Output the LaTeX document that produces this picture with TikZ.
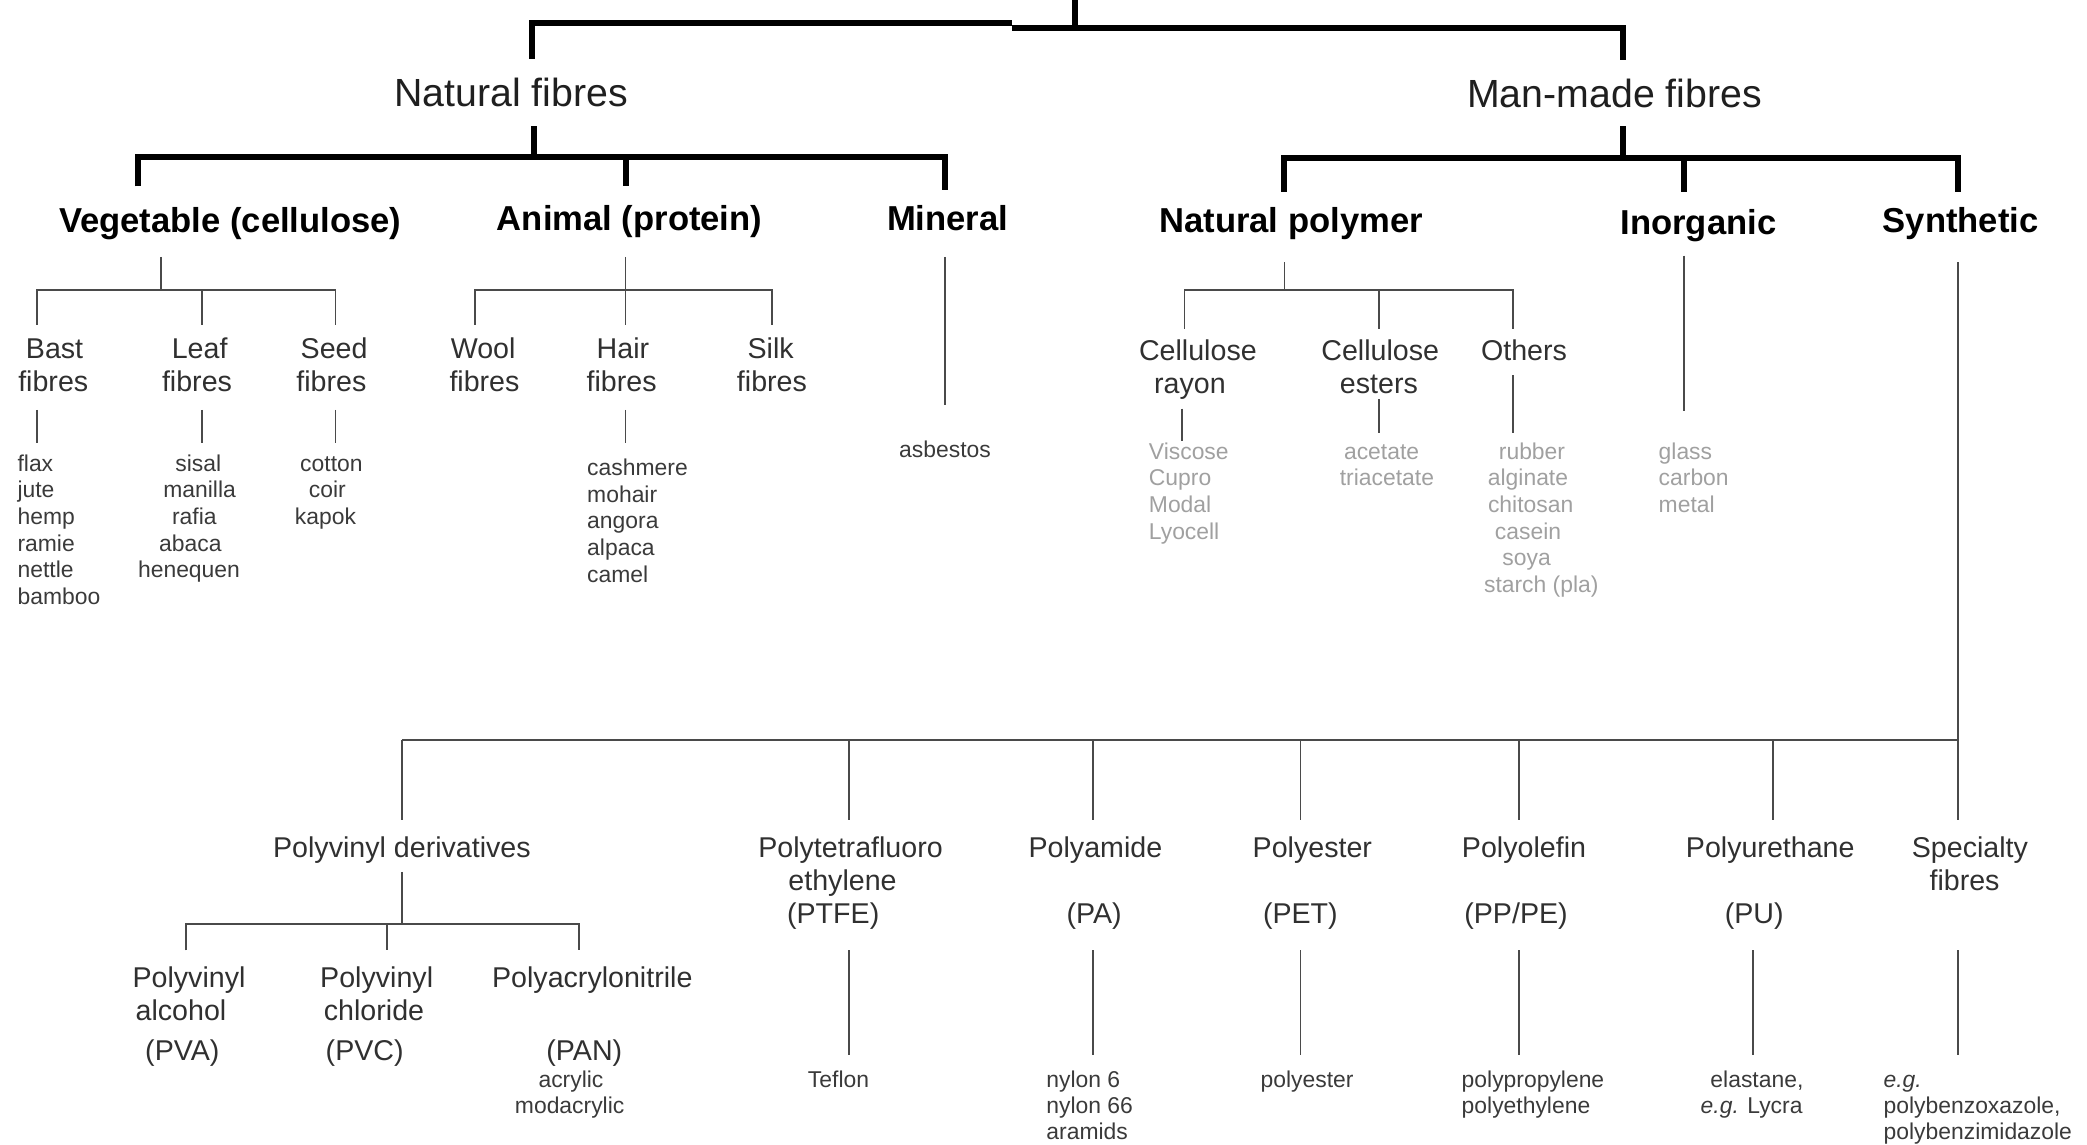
\documentclass[tikz,border=0pt]{standalone}
\usepackage{fontspec}
\setmainfont{Liberation Sans}
\definecolor{linegray}{HTML}{4A4A4A}
\definecolor{txtdark}{HTML}{303030}
\definecolor{txtmid}{HTML}{3A3A3A}
\definecolor{txtlight}{HTML}{A0A0A0}
\begin{document}
\begin{tikzpicture}[x=1pt,y=-1pt,
  thickline/.style={line width=4.5pt, black, line join=miter},
  thinline/.style={line width=1.3pt, draw=linegray},
  lvlone/.style={font=\fontsize{29.5}{35}\selectfont, text=black!88, inner sep=0pt, anchor=base},
  lvltwo/.style={font=\fontsize{26}{31}\selectfont\bfseries, text=black, inner sep=0pt, anchor=base},
  lvlthree/.style={font=\fontsize{21.5}{25}\selectfont, text=txtdark, inner sep=0pt, anchor=base},
  small/.style={font=\fontsize{17.2}{20}\selectfont, text=txtmid, inner sep=0pt},
  faint/.style={small, text=txtlight}]
\useasboundingbox (0,0) rectangle (1568,860);

% ---------- top level ----------
\coordinate (t0) at (808,0);
\coordinate (t1) at (808,21);
\coordinate (tl) at (400,17.3);
\coordinate (tm1) at (760,17.3);
\coordinate (tm2) at (760,21);
\coordinate (tr) at (1219,21);
\coordinate (nfd) at (400,44);
\coordinate (mmd) at (1219,45);
\draw[thickline] (t0) -- (t1);
\draw[thickline] (nfd) -- (tl) -- (tm1);
\draw[thickline] (tm2) -- (tr) -- (mmd);

\node[lvlone] (nat) at (384,80) {Natural fibres};
\node[lvlone] (man) at (1213,81) {Man-made fibres};

% ---------- natural fibres branch ----------
\coordinate (nf1) at (401,95);
\coordinate (nf2) at (401,118);
\coordinate (nbl) at (104,118);
\coordinate (nbm) at (470,118);
\coordinate (nbr) at (710,118);
\coordinate (nvl) at (104,140);
\coordinate (nvm) at (470,140);
\coordinate (nvr) at (710,143);
\draw[thickline] (nf1) -- (nf2);
\draw[thickline] (nvl) -- (nbl) -- (nbr) -- (nvr);
\draw[thickline] (nbm) -- (nvm);

\node[lvltwo] (veg) at (173,175) {Vegetable (cellulose)};
\node[lvltwo] (ani) at (473,173) {Animal (protein)};
\node[lvltwo] (min) at (712,173) {Mineral};

% ---------- man-made branch ----------
\coordinate (mm1) at (1219,95);
\coordinate (mm2) at (1219,119);
\coordinate (mbl) at (965,119);
\coordinate (mbm) at (1265,119);
\coordinate (mbr) at (1471,119);
\coordinate (mvl) at (965,144);
\coordinate (mvm) at (1265,144);
\coordinate (mvr) at (1471,144);
\draw[thickline] (mm1) -- (mm2);
\draw[thickline] (mvl) -- (mbl) -- (mbr) -- (mvr);
\draw[thickline] (mbm) -- (mvm);

\node[lvltwo] (npol) at (970,175) {Natural polymer};
\node[lvltwo] (inorg) at (1276,176) {Inorganic};
\node[lvltwo] (syn) at (1473,175) {Synthetic};

% ---------- vegetable ----------
\coordinate (vg1) at (121,193);
\coordinate (vg2) at (121,218);
\coordinate (vgl) at (28,218);
\coordinate (vgm) at (152,218);
\coordinate (vgr) at (252,218);
\coordinate (vgl2) at (28,244);
\coordinate (vgm2) at (152,244);
\coordinate (vgr2) at (252,244);
\draw[thinline] (vg1) -- (vg2);
\draw[thinline] (vgl2) -- (vgl) -- (vgr) -- (vgr2);
\draw[thinline] (vgm) -- (vgm2);

\node[lvlthree] (bast) at (41,269.5) {Bast};
\node[lvlthree] (bastb) at (40,294.5) {fibres};
\node[lvlthree] (leaf) at (150,269.5) {Leaf};
\node[lvlthree] (leafb) at (148,294.5) {fibres};
\node[lvlthree] (seed) at (251,269.5) {Seed};
\node[lvlthree] (seedb) at (249,294.5) {fibres};

\coordinate (bs1) at (28,308);  \coordinate (bs2) at (28,333);
\coordinate (lf1) at (152,308); \coordinate (lf2) at (152,333);
\coordinate (sd1) at (252,308); \coordinate (sd2) at (252,333);
\draw[thinline] (bs1) -- (bs2);
\draw[thinline] (lf1) -- (lf2);
\draw[thinline] (sd1) -- (sd2);

\foreach \t [count=\i] in {flax,jute,hemp,ramie,nettle,bamboo}
  \node[small, anchor=base west] (bastl-\i) at ({13},{354+(\i-1)*20}) {\t};
\foreach \t/\xx [count=\i] in {sisal/149,manilla/150,rafia/146,abaca/143,henequen/142}
  \node[small, anchor=base] (leafl-\i) at ({\xx},{354+(\i-1)*20}) {\t};
\foreach \t/\xx [count=\i] in {cotton/249,coir/246,kapok/244.5}
  \node[small, anchor=base] (seedl-\i) at ({\xx},{354+(\i-1)*20}) {\t};

% ---------- animal ----------
\coordinate (an1) at (470,193);
\coordinate (an2) at (470,218);
\coordinate (anl) at (357,218);
\coordinate (anr) at (580,218);
\coordinate (anl2) at (357,244);
\coordinate (anm2) at (470,244);
\coordinate (anr2) at (580,244);
\draw[thinline] (an1) -- (an2) -- (anm2);
\draw[thinline] (anl2) -- (anl) -- (anr) -- (anr2);

\node[lvlthree] (wool) at (363,269.5) {Wool};
\node[lvlthree] (woolb) at (364,294.5) {fibres};
\node[lvlthree] (hair) at (468,269.5) {Hair};
\node[lvlthree] (hairb) at (467,294.5) {fibres};
\node[lvlthree] (silk) at (579,269.5) {Silk};
\node[lvlthree] (silkb) at (580,294.5) {fibres};

\coordinate (hr1) at (470,308); \coordinate (hr2) at (470,333);
\draw[thinline] (hr1) -- (hr2);
\foreach \t [count=\i] in {cashmere,mohair,angora,alpaca,camel}
  \node[small, anchor=base west] (hairl-\i) at ({441},{357+(\i-1)*20.2}) {\t};

% ---------- mineral ----------
\coordinate (mn1) at (710,193);
\coordinate (mn2) at (710,304);
\draw[thinline] (mn1) -- (mn2);
\node[small, anchor=base] (asb) at (710,344) {asbestos};

% ---------- natural polymer ----------
\coordinate (np1) at (965,197);
\coordinate (np2) at (965,218);
\coordinate (npl) at (890,218);
\coordinate (npm) at (1036,218);
\coordinate (npr) at (1137,218);
\coordinate (npl2) at (890,247);
\coordinate (npm2) at (1036,247);
\coordinate (npr2) at (1137,247);
\draw[thinline] (np1) -- (np2);
\draw[thinline] (npl2) -- (npl) -- (npr) -- (npr2);
\draw[thinline] (npm) -- (npm2);

\node[lvlthree] (cr) at (900,270.5) {Cellulose};
\node[lvlthree] (crb) at (894,295.5) {rayon};
\node[lvlthree] (ce) at (1037,270.5) {Cellulose};
\node[lvlthree] (ceb) at (1036,295.5) {esters};
\node[lvlthree] (oth) at (1145,270.5) {Others};

\coordinate (cr1) at (888,307);  \coordinate (cr2) at (888,331);
\coordinate (ce1) at (1036,300); \coordinate (ce2) at (1036,325);
\coordinate (ot1) at (1137,282); \coordinate (ot2) at (1137,325);
\draw[thinline] (cr1) -- (cr2);
\draw[thinline] (ce1) -- (ce2);
\draw[thinline] (ot1) -- (ot2);

\foreach \t [count=\i] in {Viscose,Cupro,Modal,Lyocell}
  \node[faint, anchor=base west] (crl-\i) at ({863},{345+(\i-1)*20}) {\t};
\node[faint, anchor=base] (cel-1) at (1038,345) {acetate};
\node[faint, anchor=base] (cel-2) at (1042,365) {triacetate};
\foreach \t/\xx [count=\i] in {rubber/1151,alginate/1148,chitosan/1150,casein/1148,soya/1147,starch (pla)/1158}
  \node[faint, anchor=base] (otl-\i) at ({\xx},{345+(\i-1)*20}) {\t};

% ---------- inorganic ----------
\coordinate (in1) at (1265,192);
\coordinate (in2) at (1265,309);
\draw[thinline] (in1) -- (in2);
\foreach \t [count=\i] in {glass,carbon,metal}
  \node[faint, anchor=base west] (inl-\i) at ({1246},{345+(\i-1)*20}) {\t};

% ---------- synthetic ----------
\coordinate (sy1) at (1471,197);
\coordinate (sybar) at (1471,556);
\coordinate (sy2) at (1471,616);
\draw[thinline] (sy1) -- (sy2);
\coordinate (sbl) at (302,556);
\draw[thinline] (sbl) -- (sybar);
\foreach \xx [count=\i] in {302,638,821,977,1141,1332}{
  \coordinate (sd-\i) at ({\xx},556);
  \coordinate (se-\i) at ({\xx},616);
  \draw[thinline] (sd-\i) -- (se-\i);
}

\node[lvlthree] (pvd) at (302,644) {Polyvinyl derivatives};
\node[lvlthree] (ptfe) at (639,644) {Polytetrafluoro};
\node[lvlthree] (ptfeb) at (633,669) {ethylene};
\node[lvlthree] (ptfec) at (626,694) {(PTFE)};
\node[lvlthree] (pa) at (823,644) {Polyamide};
\node[lvlthree] (pab) at (822,694) {(PA)};
\node[lvlthree] (pet) at (986,644) {Polyester};
\node[lvlthree] (petb) at (977,694) {(PET)};
\node[lvlthree] (po) at (1145,644) {Polyolefin};
\node[lvlthree] (pob) at (1139,694) {(PP/PE)};
\node[lvlthree] (pu) at (1330,644) {Polyurethane};
\node[lvlthree] (pub) at (1318,694) {(PU)};
\node[lvlthree] (sp) at (1480,644) {Specialty};
\node[lvlthree] (spb) at (1476,669) {fibres};

% lower drops
\foreach \xx [count=\i] in {638,821,977,1141,1317,1471}{
  \coordinate (ld-\i) at ({\xx},714);
  \coordinate (le-\i) at ({\xx},793);
  \draw[thinline] (ld-\i) -- (le-\i);
}

\node[small, anchor=base] (teflon) at (630,817) {Teflon};
\foreach \t [count=\i] in {nylon 6,nylon 66,aramids}
  \node[small, anchor=base west] (pal-\i) at ({786},{817+(\i-1)*19.5}) {\t};
\node[small, anchor=base] (petl) at (982,817) {polyester};
\foreach \t [count=\i] in {polypropylene,polyethylene}
  \node[small, anchor=base west] (pol-\i) at ({1098},{817+(\i-1)*19.5}) {\t};
\node[small, anchor=base] (pul-1) at (1320,817) {elastane,};
\node[small, anchor=base] (pul-2) at (1316,836.5) {\textit{e.g.} Lycra};
\node[small, anchor=base west] (spl-1) at (1415,817) {\textit{e.g.}};
\node[small, anchor=base west] (spl-2) at (1415,836.5) {polybenzoxazole,};
\node[small, anchor=base west] (spl-3) at (1415,856) {polybenzimidazole};

% ---------- polyvinyl derivatives ----------
\coordinate (pv1) at (302,655);
\coordinate (pv2) at (302,694);
\coordinate (pvl) at (140,694);
\coordinate (pvm) at (291,694);
\coordinate (pvr) at (435,694);
\coordinate (pvl2) at (140,714);
\coordinate (pvm2) at (291,714);
\coordinate (pvr2) at (435,714);
\draw[thinline] (pv1) -- (pv2);
\draw[thinline] (pvl2) -- (pvl) -- (pvr) -- (pvr2);
\draw[thinline] (pvm) -- (pvm2);

\node[lvlthree] (pva) at (142,742) {Polyvinyl};
\node[lvlthree] (pvab) at (136,767) {alcohol};
\node[lvlthree] (pvac) at (137,797) {(PVA)};
\node[lvlthree] (pvc) at (283,742) {Polyvinyl};
\node[lvlthree] (pvcb) at (281,767) {chloride};
\node[lvlthree] (pvcc) at (274,797) {(PVC)};
\node[lvlthree] (pan) at (445,742) {Polyacrylonitrile};
\node[lvlthree] (panb) at (439,797) {(PAN)};
\node[small, anchor=base] (panl-1) at (429,817) {acrylic};
\node[small, anchor=base] (panl-2) at (428,836.5) {modacrylic};
\end{tikzpicture}
\end{document}
